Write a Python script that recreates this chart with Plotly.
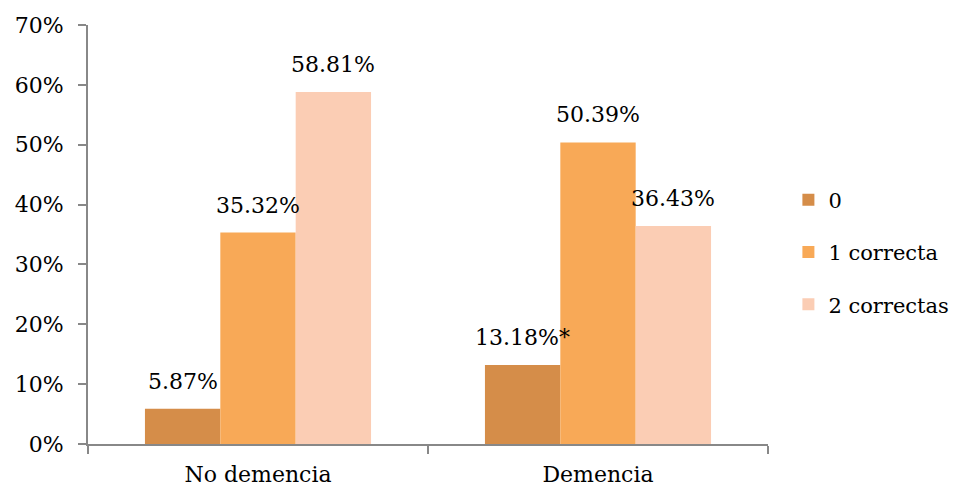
import plotly.graph_objects as go

categories = ["No demencia", "Demencia"]
series_names = ["0", "1 correcta", "2 correctas"]
values_0 = [5.87, 13.18]
values_1 = [35.32, 50.39]
values_2 = [58.81, 36.43]
label_0 = ["5.87%", "13.18%*"]
label_1 = ["35.32%", "50.39%"]
label_2 = ["58.81%", "36.43%"]
colors = ["#D58D49", "#F8A957", "#FBCDB4"]

FONT = "DejaVu Serif"
fig = go.Figure()
all_vals = [values_0, values_1, values_2]
all_labels = [label_0, label_1, label_2]
for i, (name, vals) in enumerate(zip(series_names, all_vals)):
    fig.add_trace(go.Bar(
        x=categories, y=vals, name=name, marker_color=colors[i],
        marker_line_width=0, legendgroup=name,
    ))

# bar geometry for label placement
L, R = 88, 198
W = 966
plot_w = W - L - R
bargap = 0.335
cat_w = plot_w / len(categories)
bar_w = cat_w * (1 - bargap) / 3

for i, (vals, labs) in enumerate(zip(all_vals, all_labels)):
    for c, v, t in zip(categories, vals, labs):
        fig.add_annotation(
            x=c, y=v, text=t, showarrow=False, xref="x", yref="y",
            xanchor="center", yanchor="bottom",
            xshift=(i - 1) * bar_w, yshift=13,
            font=dict(family=FONT, size=22, color="#000000"),
        )

fig.update_layout(
    width=966, height=491,
    margin=dict(l=L, r=R, t=25, b=47),
    paper_bgcolor="white", plot_bgcolor="white",
    barmode="group", bargap=bargap, bargroupgap=0,
    font=dict(family=FONT, size=22, color="#000000"),
    legend=dict(
        x=1.03, y=0.458, xanchor="left", yanchor="middle",
        font=dict(family=FONT, size=21, color="#000000"),
        traceorder="grouped", tracegroupgap=22,
    ),
    xaxis=dict(
        showline=True, linecolor="#888888", linewidth=2,
        ticks="outside", tickson="boundaries", ticklen=8, tickcolor="#888888",
        tickwidth=2, showgrid=False, zeroline=False, ticklabelstandoff=10,
        automargin=False,
        tickfont=dict(family=FONT, size=22, color="#000000"),
    ),
    yaxis=dict(
        range=[0, 70], dtick=10, ticksuffix="%",
        showline=True, linecolor="#888888", linewidth=2,
        ticks="outside", ticklen=8, tickcolor="#888888", tickwidth=2,
        showgrid=False, zeroline=False, ticklabelstandoff=10,
        automargin=False,
        tickfont=dict(family=FONT, size=22, color="#000000"),
    ),
)

fig.write_html("out.html")
